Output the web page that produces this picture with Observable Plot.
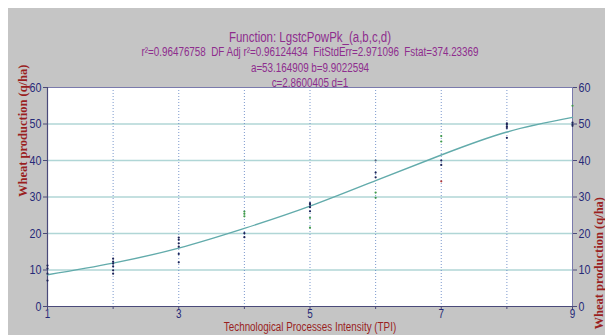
<!DOCTYPE html>
<html>
<head>
<meta charset="utf-8">
<script src="https://cdn.jsdelivr.net/npm/d3@7"></script>
<script src="https://cdn.jsdelivr.net/npm/@observablehq/plot@0.6"></script>
<style>
  html, body { margin: 0; padding: 0; background: #ffffff; }
  #wrap { position: relative; width: 605px; height: 335px; overflow: hidden; }
  #bg { position: absolute; left: 8px; top: 8px; right: 0; bottom: 0; background: #c5c5c5; }
  #chart { position: absolute; left: 0; top: 0; }
</style>
</head>
<body>
<div id="wrap"><div id="bg"></div><div id="chart"></div></div>
<script>
// Observed data points (TPI vs wheat production)
const tpi   = [1,1,1,1, 2,2,2,2,2,2, 3,3,3,3,3,3, 4,4,4,4,4, 5,5,5,5,5,5, 6,6,6,6,6, 7,7,7,7,7, 8,8,8,8,8, 9,9,9,9];
const wheat = [11.2,10.4,9.0,7.1, 13.1,12.3,11.8,11.0,9.9,9.0, 18.9,18.3,17.3,16.4,14.4,12.1,
               26.0,25.4,24.7,20.1,19.0, 28.3,27.9,27.2,26.1,24.3,21.6, 40.0,36.7,35.4,31.2,29.8,
               46.7,45.2,40.0,38.8,34.3, 50.2,49.8,49.3,48.9,46.2, 55.0,50.4,49.9,49.5];
const kind  = ["d","d","d","d", "d","d","d","d","d","d", "d","d","d","d","d","d",
               "g","g","g","d","d", "d","d","d","d","g","g", "m","d","d","g","g",
               "g","g","d","d","r", "d","d","d","d","d", "g","d","d","d"];

// Fitted curve
const fitX = [1,2,3,4,5,6,7,8,9];
const fitY = [8.7,11.9,16.0,21.4,27.5,34.5,41.5,47.8,51.8];

// Axis ticks
const yTicks = [0,10,20,30,40,50,60];
const yGrid = [10,20,30,40,50];
const xTicks = [1,2,3,4,5,6,7,8,9];
const xGrid = [2,3,4,5,6,7,8];

// Text
const titleLines = [
  "Function: LgstcPowPk_(a,b,c,d)",
  "r²=0.96476758  DF Adj r²=0.96124434  FitStdErr=2.971096  Fstat=374.23369",
  "a=53.164909 b=9.9022594",
  "c=2.8600405 d=1"
];
const xTitle = "Technological Processes Intensity (TPI)";
const yTitle = "Wheat production (q/ha)";

const points = tpi.map((x, i) => ({x, y: wheat[i], k: kind[i]}));
const fit = fitX.map((x, i) => ({x, y: fitY[i]}));
const colorOf = {d: "#1c2358", g: "#3f9a4a", r: "#b33a3a", m: "#5a6a80"};

const sans = "'Liberation Sans', Arial, sans-serif";
const serif = "'Liberation Serif', 'Times New Roman', serif";
const navy = "#262a78";
const purple = "#8e2d8e";
const darkred = "#9a1f1f";

const chart = Plot.plot({
  width: 605,
  height: 335,
  marginLeft: 47,
  marginRight: 33,
  marginTop: 87,
  marginBottom: 29,
  style: {background: "transparent", fontFamily: sans},
  x: {domain: [1, 9]},
  y: {domain: [0, 60]},
  marks: [
    Plot.frame({fill: "white", stroke: "none"}),
    Plot.gridY(yGrid, {stroke: "#b0d6d6", strokeOpacity: 1, strokeWidth: 1.5}),
    Plot.gridX(xGrid, {stroke: "#5a7fc0", strokeOpacity: 0.8, strokeWidth: 1, strokeDasharray: "1,2"}),
    Plot.frame({stroke: "#7a7aac", strokeWidth: 1}),
    Plot.ruleX([1], {stroke: "#4a4a7a", strokeWidth: 1.2}),
    Plot.ruleY([0], {stroke: "#4a4a7a", strokeWidth: 1.2}),
    Plot.line(fit, {x: "x", y: "y", curve: "natural", stroke: "#62abab", strokeWidth: 1.4}),
    Plot.dot(points, {x: "x", y: "y", r: 1.1, fill: d => colorOf[d.k], stroke: "none"}),
    Plot.axisY(yTicks, {anchor: "left", tickSize: 4, tickPadding: 2, fill: navy, stroke: "#4a4a7a", fontSize: 13, label: null, className: "narrow"}),
    Plot.axisY(yTicks, {anchor: "right", tickSize: 4, tickPadding: 2, fill: navy, stroke: "#4a4a7a", fontSize: 13, label: null, className: "narrow"}),
    Plot.axisX(xTicks, {anchor: "bottom", tickSize: 3, tickPadding: 0, fill: navy, stroke: "#4a4a7a", fontSize: 12,
                         tickFormat: d => (d % 2 === 1 ? String(d) : ""), label: null, className: "narrow"}),
    Plot.text([xTitle], {frameAnchor: "bottom", dy: 24, fill: darkred, fontSize: 12, className: "narrow"}),
    Plot.text([yTitle], {frameAnchor: "left", rotate: -90, dx: -25, fill: darkred, fontSize: 12.5, fontWeight: "bold", fontFamily: serif}),
    Plot.text([yTitle], {frameAnchor: "right", rotate: -90, dx: 26, fill: darkred, fontSize: 12.5, fontWeight: "bold", fontFamily: serif}),
    Plot.text([titleLines[0]], {frameAnchor: "top", dy: -55, fill: purple, fontSize: 14, className: "narrow"}),
    Plot.text([titleLines[1]], {frameAnchor: "top", dy: -40, fill: purple, fontSize: 12, className: "narrow"}),
    Plot.text([titleLines[2]], {frameAnchor: "top", dy: -24, fill: purple, fontSize: 12, className: "narrow"}),
    Plot.text([titleLines[3]], {frameAnchor: "top", dy: -9, fill: purple, fontSize: 12, className: "narrow"})
  ]
});
document.getElementById("chart").appendChild(chart);

// Emulate a narrow (Arial Narrow-like) face by condensing glyphs horizontally
d3.select(chart).selectAll(".narrow text").each(function() {
  const len = this.getComputedTextLength();
  if (len > 0) {
    this.setAttribute("textLength", (len * 0.82).toFixed(1));
    this.setAttribute("lengthAdjust", "spacingAndGlyphs");
  }
});
</script>
</body>
</html>
